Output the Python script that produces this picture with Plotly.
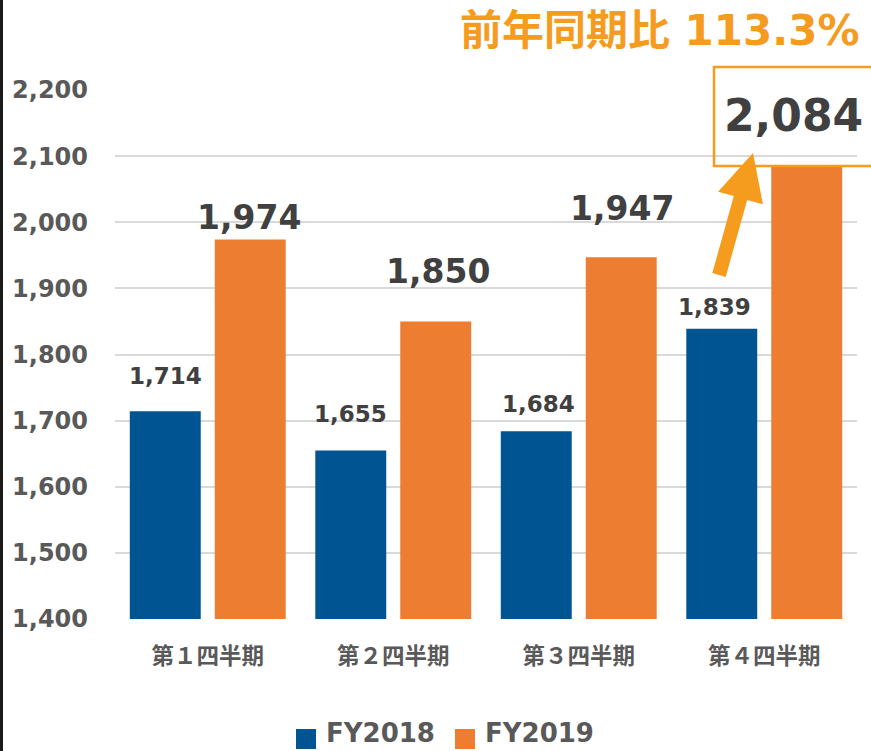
import plotly.graph_objects as go

quarters = ["第１四半期", "第２四半期", "第３四半期", "第４四半期"]
fy2018 = [1714, 1655, 1684, 1839]
fy2019 = [1974, 1850, 1947, 2084]
yoy_text = "前年同期比 113.3%"

W, H = 871, 751
ML, MR, MT, MB = 115, 14, 90, 132
PW, PH = W - ML - MR, H - MT - MB

BLUE = "#005491"
ORANGE = "#ED7D31"
ACCENT = "#F59C1E"
GRAY = "#595959"
DARK = "#404040"
FONT = "DejaVu Sans, Noto Sans CJK JP"


def px(x, y):
    # pixel position -> paper coords
    return (x - ML) / PW, (H - MB - y) / PH


fig = go.Figure()

fig.add_trace(go.Bar(
    x=quarters, y=fy2018, name="FY2018",
    marker=dict(color=BLUE, line=dict(width=0)),
    showlegend=False, hoverinfo="x+y"
))
fig.add_trace(go.Bar(
    x=quarters, y=fy2019, name="FY2019",
    marker=dict(color=ORANGE, line=dict(width=0)),
    showlegend=False, hoverinfo="x+y"
))

# value labels
blue_dx = [0, 0, 2, -7]
blue_dy = [35, 36, 27, 22]
orange_dx = [-1, 2, 1, -13]
orange_dy = [22, 50, 49, 51]
orange_size = [33, 33, 33, 44]

for i, q in enumerate(quarters):
    fig.add_annotation(
        x=q, y=fy2018[i], text=f"{fy2018[i]:,}", showarrow=False,
        xshift=-42.5 + blue_dx[i], yshift=blue_dy[i], yanchor="middle",
        font=dict(family=FONT, size=23, color=DARK, weight="bold")
    )
    fig.add_annotation(
        x=q, y=fy2019[i], text=f"{fy2019[i]:,}", showarrow=False,
        xshift=42.5 + orange_dx[i], yshift=orange_dy[i], yanchor="middle",
        font=dict(family=FONT, size=orange_size[i], color=DARK, weight="bold")
    )

# headline
x0, y0 = px(862, 30)
fig.add_annotation(
    xref="paper", yref="paper", x=x0, y=y0, xanchor="right", yanchor="middle",
    text=yoy_text, showarrow=False,
    font=dict(family=FONT, size=42, color=ACCENT, weight="bold")
)

shapes = []

# box around the Q4 value
bx0, by0 = px(714, 166)
bx1, by1 = px(880, 67)
shapes.append(dict(type="rect", xref="paper", yref="paper",
                   x0=bx0, y0=by0, x1=bx1, y1=by1,
                   line=dict(color=ACCENT, width=2.5), layer="above"))

# arrow
pts = [(712.3, 273.1), (733.8, 196.1), (718.1, 191.8), (753, 153),
       (762.9, 204.2), (747.2, 199.9), (725.7, 276.9)]
path = ""
for k, (a, b) in enumerate(pts):
    xp, yp = px(a, b)
    path += ("M" if k == 0 else "L") + f"{xp:.5f},{yp:.5f}"
path += "Z"
shapes.append(dict(type="path", xref="paper", yref="paper", path=path,
                   fillcolor=ACCENT, line=dict(width=0), layer="above"))

# left frame line
lx, _ = px(1.5, 0)
_, ly_top = px(0, 0)
_, ly_bot = px(0, H)
shapes.append(dict(type="line", xref="paper", yref="paper",
                   x0=lx, x1=lx, y0=ly_bot, y1=ly_top,
                   line=dict(color="#1a1a1a", width=3)))

# legend (manual, larger swatches)
legend_items = [("FY2018", BLUE, 296), ("FY2019", ORANGE, 455)]
for name, col, lx0 in legend_items:
    sx0, sy0 = px(lx0, 749)
    sx1, sy1 = px(lx0 + 20, 729)
    shapes.append(dict(type="rect", xref="paper", yref="paper",
                       x0=sx0, y0=sy0, x1=sx1, y1=sy1,
                       fillcolor=col, line=dict(width=0)))
    tx, ty = px(lx0 + 28, 733)
    fig.add_annotation(
        xref="paper", yref="paper", x=tx, y=ty, xanchor="left", yanchor="middle",
        text=name, showarrow=False,
        font=dict(family=FONT, size=26, color=GRAY, weight="bold")
    )

fig.update_layout(
    width=W, height=H, autosize=False,
    margin=dict(l=ML, r=MR, t=MT, b=MB, pad=0),
    paper_bgcolor="white", plot_bgcolor="white",
    barmode="group", bargap=0.084, bargroupgap=0.165,
    shapes=shapes,
    xaxis=dict(
        range=[-0.5, 3.5], automargin=False,
        showgrid=False, zeroline=False, showline=False, ticks="",
        tickfont=dict(family="Noto Sans CJK JP", size=22.5, color=GRAY, weight="bold"),
        ticklabelstandoff=21
    ),
    yaxis=dict(
        range=[1400, 2200], dtick=100, tickformat=",", automargin=False,
        showgrid=True, gridcolor="#D9D9D9", gridwidth=1.5,
        zeroline=False, showline=False, ticks="",
        tickfont=dict(family=FONT, size=24, color=GRAY, weight="bold"),
        ticklabelstandoff=26
    ),
)

fig.write_html("out.html", config={"displayModeBar": False},
               post_script="document.body.style.margin='0';document.body.style.overflow='hidden';")
